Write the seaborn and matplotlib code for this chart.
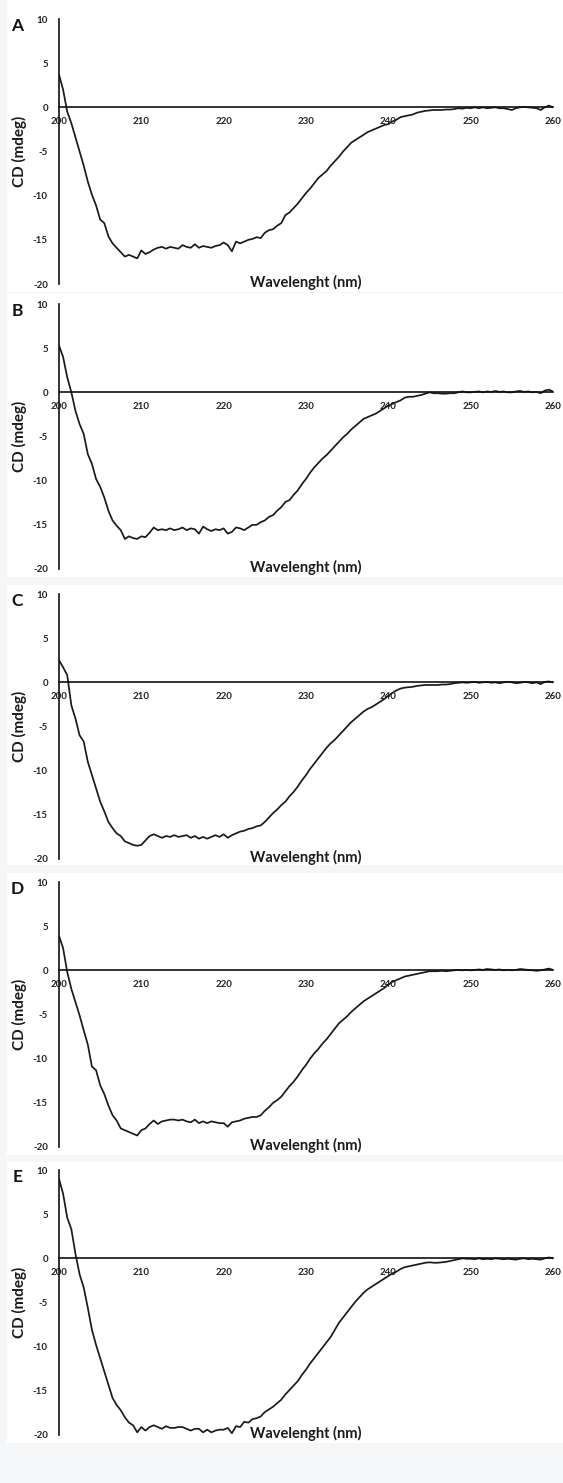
import numpy as np
import pandas as pd
import matplotlib
matplotlib.use("Agg")
import matplotlib.pyplot as plt
from matplotlib.patches import Rectangle
import seaborn as sns

# ---------------- data ----------------
wavelength = np.arange(200.0, 260.01, 0.5)

cd_A = [3.7, 2.0, -0.5, -1.8, -3.4, -5.0, -6.6, -8.4, -9.9, -11.1,
        -12.7, -13.1, -14.6, -15.4, -15.9, -16.4, -16.9, -16.7, -16.9, -17.1,
        -16.2, -16.6, -16.4, -16.1, -15.9, -15.8, -16.0, -15.8, -15.9, -16.0,
        -15.6, -15.8, -15.9, -15.5, -15.9, -15.7, -15.8, -15.9, -15.7, -15.6,
        -15.3, -15.6, -16.3, -15.2, -15.4, -15.2, -15.0, -14.9, -14.7, -14.8,
        -14.2, -13.9, -13.8, -13.4, -13.1, -12.2, -11.9, -11.4, -10.9, -10.3,
        -9.7, -9.2, -8.6, -8.0, -7.6, -7.2, -6.6, -6.1, -5.6, -5.0,
        -4.5, -4.0, -3.7, -3.4, -3.1, -2.8, -2.6, -2.4, -2.2, -2.0,
        -1.9, -1.6, -1.4, -1.1, -1.0, -0.9, -0.8, -0.6, -0.5, -0.4,
        -0.35, -0.3, -0.3, -0.3, -0.25, -0.25, -0.2, -0.1, -0.15, -0.05,
        -0.1, 0.0, -0.1, 0.0, -0.1, -0.05, 0.0, -0.1, -0.1, -0.2,
        -0.3, -0.1, 0.0, 0.05, 0.0, -0.05, -0.1, -0.3, 0.0, 0.2,
        0.0]

cd_B = [5.3, 4.0, 1.7, 0.0, -2.1, -3.6, -4.7, -7.0, -8.1, -9.8,
        -10.7, -11.9, -13.4, -14.5, -15.1, -15.6, -16.6, -16.3, -16.5, -16.6,
        -16.3, -16.4, -15.9, -15.3, -15.6, -15.5, -15.6, -15.4, -15.6, -15.5,
        -15.3, -15.6, -15.4, -15.5, -16.0, -15.2, -15.5, -15.7, -15.5, -15.6,
        -15.4, -16.0, -15.8, -15.3, -15.4, -15.6, -15.3, -15.0, -15.0, -14.7,
        -14.5, -14.1, -13.9, -13.4, -13.0, -12.4, -12.2, -11.6, -11.1, -10.4,
        -9.8, -9.1, -8.5, -8.0, -7.5, -7.1, -6.6, -6.1, -5.6, -5.1,
        -4.7, -4.2, -3.8, -3.4, -3.0, -2.8, -2.6, -2.4, -2.1, -1.8,
        -1.5, -1.3, -1.1, -0.9, -0.6, -0.5, -0.5, -0.4, -0.3, -0.15,
        0.0, -0.1, -0.1, -0.15, -0.15, -0.1, -0.1, 0.0, 0.1, 0.0,
        0.0, 0.05, 0.1, 0.0, 0.1, 0.05, 0.15, 0.05, 0.1, 0.0,
        0.0, 0.1, 0.15, 0.05, 0.1, 0.0, 0.05, -0.1, 0.2, 0.3,
        0.1]

cd_C = [2.5, 1.7, 0.8, -2.6, -4.1, -6.0, -6.7, -9.0, -10.5, -12.0,
        -13.5, -14.6, -15.8, -16.5, -17.1, -17.4, -18.0, -18.2, -18.4, -18.5,
        -18.4, -17.9, -17.4, -17.2, -17.4, -17.6, -17.4, -17.5, -17.3, -17.5,
        -17.4, -17.3, -17.6, -17.4, -17.7, -17.5, -17.7, -17.5, -17.3, -17.5,
        -17.2, -17.6, -17.3, -17.1, -16.9, -16.8, -16.6, -16.5, -16.3, -16.2,
        -15.8, -15.3, -14.8, -14.4, -13.9, -13.5, -12.9, -12.4, -11.8, -11.1,
        -10.5, -9.8, -9.2, -8.6, -8.0, -7.4, -6.9, -6.5, -6.0, -5.5,
        -5.0, -4.5, -4.1, -3.7, -3.3, -3.0, -2.8, -2.5, -2.2, -1.9,
        -1.5, -1.2, -0.9, -0.7, -0.6, -0.55, -0.5, -0.4, -0.35, -0.3,
        -0.3, -0.3, -0.3, -0.25, -0.25, -0.2, -0.1, -0.05, 0.0, -0.05,
        0.0, 0.05, -0.05, 0.0, 0.05, -0.05, 0.0, -0.1, 0.0, 0.05,
        0.0, -0.1, -0.05, 0.05, 0.0, -0.1, 0.0, -0.2, 0.05, 0.1,
        0.0]

cd_D = [3.9, 2.5, -0.2, -2.1, -3.6, -5.1, -6.8, -8.4, -10.9, -11.3,
        -13.0, -14.0, -15.3, -16.4, -17.0, -17.9, -18.1, -18.3, -18.5, -18.7,
        -18.1, -17.9, -17.4, -17.0, -17.4, -17.1, -17.0, -16.9, -16.9, -17.0,
        -16.9, -17.1, -17.2, -16.9, -17.3, -17.1, -17.3, -17.1, -17.2, -17.3,
        -17.3, -17.7, -17.2, -17.1, -17.0, -16.8, -16.7, -16.6, -16.6, -16.4,
        -15.9, -15.5, -15.0, -14.7, -14.3, -13.7, -13.1, -12.6, -12.0, -11.3,
        -10.7, -10.0, -9.4, -8.9, -8.3, -7.8, -7.2, -6.6, -6.0, -5.6,
        -5.2, -4.7, -4.3, -3.9, -3.5, -3.2, -2.9, -2.6, -2.3, -2.0,
        -1.6, -1.3, -1.1, -0.9, -0.7, -0.6, -0.5, -0.4, -0.3, -0.2,
        -0.1, -0.1, -0.1, -0.05, -0.1, -0.05, 0.0, 0.05, 0.0, 0.05,
        0.0, 0.05, 0.1, 0.05, 0.15, 0.1, 0.05, 0.1, 0.0, 0.05,
        0.0, 0.05, 0.15, 0.1, 0.05, 0.0, -0.05, 0.0, 0.1, 0.2,
        0.05]

cd_E = [9.0, 7.3, 4.6, 3.3, 0.5, -1.8, -3.3, -5.6, -8.1, -9.8,
        -11.3, -12.8, -14.3, -15.8, -16.6, -17.2, -18.0, -18.6, -18.9, -19.7,
        -19.1, -19.5, -19.1, -18.9, -19.1, -19.3, -19.0, -19.2, -19.2, -19.1,
        -19.1, -19.3, -19.5, -19.3, -19.3, -19.7, -19.4, -19.7, -19.5, -19.4,
        -19.4, -19.2, -19.8, -19.0, -19.1, -18.5, -18.6, -18.2, -18.1, -17.9,
        -17.4, -17.1, -16.8, -16.4, -16.0, -15.4, -14.9, -14.4, -13.9, -13.2,
        -12.6, -11.9, -11.3, -10.7, -10.1, -9.5, -8.9, -8.1, -7.3, -6.7,
        -6.1, -5.5, -4.9, -4.4, -3.9, -3.5, -3.2, -2.9, -2.6, -2.3,
        -2.0, -1.7, -1.5, -1.2, -1.0, -0.9, -0.8, -0.7, -0.6, -0.5,
        -0.45, -0.5, -0.5, -0.45, -0.4, -0.3, -0.2, -0.1, 0.0, -0.05,
        -0.05, -0.1, 0.0, -0.1, -0.05, -0.1, 0.0, -0.05, -0.1, -0.05,
        -0.1, -0.15, -0.05, 0.0, -0.1, -0.05, -0.1, -0.15, 0.0, 0.1,
        0.0]

panel_letters = ["A", "B", "C", "D", "E"]
series = [cd_A, cd_B, cd_C, cd_D, cd_E]
x_ticks = [200, 210, 220, 230, 240, 250, 260]
y_ticks = [-20, -15, -10, -5, 0, 5, 10]
x_label = "Wavelenght (nm)"
y_label = "CD (mdeg)"

# ---------------- style ----------------
sns.set_theme(style="white")
plt.rcParams["font.family"] = ["Lato", "DejaVu Sans"]
plt.rcParams["axes.unicode_minus"] = False

W, H = 563, 1483
fig = plt.figure(figsize=(W / 100, H / 100), dpi=100)
fig.patch.set_facecolor("#f5f6f8")

# panel layout in pixels (top, bottom of axes; top, bottom of white card)
axes_px = [(19, 284), (304, 569), (594, 859), (882, 1147), (1170, 1435)]
card_px = [(0, 292), (293, 577), (585, 865), (873, 1155), (1162, 1443)]
ax_left_px, ax_right_px = 59, 553

for letter, vals, (at, ab), (ct, cb) in zip(panel_letters, series, axes_px, card_px):
    fig.add_artist(Rectangle((7 / W, 1 - cb / H), (W - 7) / W, (cb - ct) / H,
                             transform=fig.transFigure, facecolor="white",
                             edgecolor="none", zorder=-5))
    ax = fig.add_axes([ax_left_px / W, 1 - ab / H,
                       (ax_right_px - ax_left_px) / W, (ab - at) / H])
    ax.set_facecolor("none")
    df = pd.DataFrame({"wavelength": wavelength, "cd": vals})
    sns.lineplot(data=df, x="wavelength", y="cd", ax=ax, color="#1a1a1a",
                 linewidth=1.25)
    ax.set_xlim(200, 260)
    ax.set_ylim(-20, 10)
    ax.set_xticks(x_ticks)
    ax.set_yticks(y_ticks)
    ax.set_xlabel("")
    ax.set_ylabel("")
    for s in ["top", "right"]:
        ax.spines[s].set_visible(False)
    ax.spines["bottom"].set_position(("data", 0))
    for s in ["bottom", "left"]:
        ax.spines[s].set_color("#111111")
        ax.spines[s].set_linewidth(1.2)
    ax.tick_params(axis="both", direction="out", length=2.5, width=1.0,
                   color="#111111", labelsize=7, pad=5.5, labelcolor="#222222")
    ax.tick_params(axis="x", pad=4.5)
    for lab in ax.get_xticklabels() + ax.get_yticklabels():
        lab.set_fontweight("bold")
    ax.text(0.5, 0.005, x_label, transform=ax.transAxes, ha="center",
            va="center", fontsize=10.5, fontweight="bold", color="#1a1a1a")
    fig.text(19 / W, 1 - ((at + ab) / 2) / H, y_label, rotation=90,
             ha="center", va="center", fontsize=11, fontweight="bold",
             color="#1a1a1a")
    fig.text(17.5 / W, 1 - (at + 7) / H, letter, ha="center", va="center",
             fontsize=12.5, fontweight="bold", color="#111111")

fig.savefig("out.png", dpi=100, facecolor=fig.get_facecolor())
